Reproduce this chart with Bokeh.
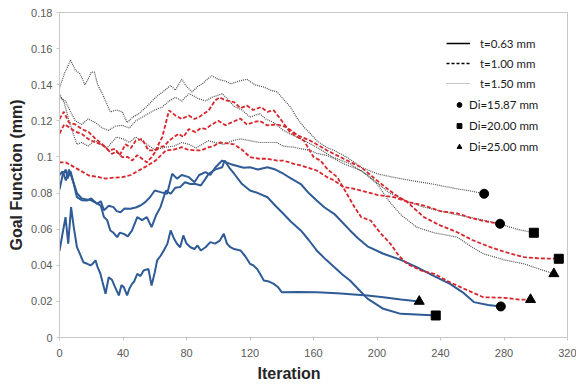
from bokeh.plotting import figure
from bokeh.models import Legend, LegendItem, Range1d, FixedTicker, NumeralTickFormatter, Title
from bokeh.embed import file_html
from bokeh.resources import INLINE

# ---------------- data ----------------
x_ticks = [0, 40, 80, 120, 160, 200, 240, 280, 320]
y_ticks = [0, 0.02, 0.04, 0.06, 0.08, 0.1, 0.12, 0.14, 0.16, 0.18]

# t = 0.63 mm (solid blue)
it_063_1587 = [0, 2, 4, 5, 7, 9, 11, 14, 17.4, 20, 23.7, 26, 28, 31, 34, 36, 38.4, 41, 44.7, 48,
               51, 54, 57, 60, 63.6, 67.8, 71, 74, 77, 81.5, 85, 88, 92, 95, 98, 102.5, 105, 108, 112, 116,
               120, 125, 131, 136, 141, 146, 152, 157, 162, 167, 173, 178, 183, 188, 194, 204, 215, 225, 236, 246,
               254, 261, 270, 278]
gf_063_1587 = [0.082, 0.090, 0.093, 0.088, 0.092, 0.085, 0.0777, 0.076, 0.0759, 0.077,
               0.074, 0.0755, 0.0704, 0.073, 0.0722, 0.070, 0.0694, 0.0715, 0.0713, 0.072,
               0.0731, 0.075, 0.0777, 0.0814, 0.0805, 0.0796, 0.0907, 0.088, 0.090, 0.0888,
               0.086, 0.090, 0.0916, 0.090, 0.094, 0.098, 0.097, 0.096, 0.095, 0.094,
               0.0943, 0.093, 0.0943, 0.093, 0.0907, 0.088, 0.085, 0.080, 0.0759, 0.072,
               0.0685, 0.064, 0.0593, 0.055, 0.0505, 0.0464, 0.043, 0.039, 0.034, 0.0297,
               0.025, 0.0196, 0.018, 0.0172]

it_063_2000 = [0, 2, 4, 6, 8, 11, 14, 17, 20, 23, 26, 28, 30, 32, 34, 36.3, 38, 40.5, 43, 45.7,
               49, 52, 55, 58, 61, 63.6, 67, 70, 73, 76, 79, 82.5, 85.7, 89, 92, 94, 98, 102.5, 104, 107,
               110, 115, 120, 125, 131, 136, 141, 146, 152, 157, 162, 168, 173, 178, 183, 188, 194, 204, 215, 225,
               237]
gf_063_2000 = [0.090, 0.092, 0.087, 0.093, 0.088, 0.080, 0.077, 0.0765, 0.076, 0.0745,
               0.073, 0.0667, 0.065, 0.0593, 0.058, 0.0556, 0.058, 0.0574, 0.056, 0.0593,
               0.0667, 0.065, 0.0667, 0.0611, 0.068, 0.0722, 0.0814, 0.0796, 0.083, 0.0833,
               0.086, 0.085, 0.085, 0.0842, 0.088, 0.0907, 0.093, 0.0943, 0.098, 0.094,
               0.0907, 0.085, 0.0814, 0.080, 0.0777, 0.073, 0.0685, 0.064, 0.0593, 0.054,
               0.0482, 0.043, 0.039, 0.035, 0.0316, 0.027, 0.0215, 0.0159, 0.0131, 0.0128,
               0.0122]

it_063_2500 = [0, 2, 3.8, 5.5, 7.3, 9, 11, 13, 15, 17, 19.5, 21, 22.7, 24, 25.8, 27, 29, 31, 33, 35,
               37.4, 39, 40.5, 42.6, 44, 45.7, 47, 49, 51, 53, 56, 58, 60, 61.5, 63.5, 65.7, 68, 70, 72, 74,
               76, 78, 80, 82.5, 85, 87, 89, 92, 95, 98, 101, 103.5, 105.5, 107.7, 110, 114, 117, 120, 122, 124.5,
               126.5, 128.7, 132, 135, 137.5, 140, 150, 162, 175, 194, 204, 215, 226.6]
gf_063_2500 = [0.048, 0.058, 0.0667, 0.052, 0.0722, 0.061, 0.050, 0.046, 0.0417, 0.041,
               0.0399, 0.041, 0.0427, 0.039, 0.0353, 0.031, 0.0242, 0.0334, 0.032, 0.0279,
               0.0233, 0.029, 0.0279, 0.0233, 0.027, 0.0297, 0.031, 0.0353, 0.034, 0.0371,
               0.038, 0.0288, 0.036, 0.0427, 0.045, 0.0482, 0.052, 0.0593, 0.055, 0.0519,
               0.050, 0.0565, 0.052, 0.050, 0.049, 0.051, 0.0482, 0.050, 0.0528, 0.052,
               0.0537, 0.0574, 0.052, 0.050, 0.049, 0.0482, 0.045, 0.0408, 0.040, 0.038,
               0.035, 0.0316, 0.031, 0.0297, 0.028, 0.0251, 0.0252, 0.0251, 0.0245, 0.0233,
               0.0223, 0.021, 0.020]

# t = 1.00 mm (dashed red)
it_100_1587 = [0, 4, 10, 14, 18.5, 24, 29, 34, 39.5, 45, 50, 55, 60.5, 64, 67, 72, 77, 81, 85.7, 89,
               94, 97, 101, 106, 110, 115, 120, 126, 131, 137, 141, 147.6, 152, 162, 168.6, 173, 179, 185, 190, 200,
               210.6, 220, 229.5, 240, 250.5, 260, 270, 277.5]
gf_100_1587 = [0.097, 0.097, 0.094, 0.092, 0.0897, 0.089, 0.088, 0.0885, 0.0888, 0.090,
               0.0925, 0.095, 0.098, 0.101, 0.1036, 0.104, 0.1054, 0.104, 0.1036, 0.1036,
               0.1054, 0.106, 0.108, 0.1075, 0.107, 0.104, 0.0999, 0.099, 0.099, 0.098,
               0.098, 0.0962, 0.0953, 0.0925, 0.0888, 0.087, 0.0833, 0.0825, 0.0814, 0.079,
               0.0777, 0.075, 0.0731, 0.070, 0.0687, 0.066, 0.064, 0.063]

it_100_2000 = [0, 3, 6, 10, 14, 18, 22.7, 26, 29, 33, 36, 39.5, 43, 45.8, 49, 52, 55, 58, 62.5, 66,
               69, 75, 78, 81.5, 85.7, 89, 92, 96, 100, 104.6, 108, 114, 118, 122.4, 126, 131, 137, 143, 150, 158,
               168.6, 179, 190, 200, 210.6, 219, 229.5, 240, 250.5, 260, 271.5, 282, 292.5, 303, 314.5]
gf_100_2000 = [0.113, 0.118, 0.1165, 0.114, 0.1128, 0.110, 0.108, 0.107, 0.1054, 0.1017,
               0.103, 0.0999, 0.100, 0.098, 0.101, 0.099, 0.097, 0.0999, 0.1054, 0.106,
               0.109, 0.1128, 0.111, 0.1155, 0.1137, 0.116, 0.1155, 0.118, 0.120, 0.1175,
               0.119, 0.1212, 0.118, 0.1193, 0.120, 0.1175, 0.118, 0.1165, 0.112, 0.109,
               0.1036, 0.099, 0.0943, 0.087, 0.0796, 0.075, 0.0667, 0.062, 0.0583, 0.054,
               0.050, 0.047, 0.0445, 0.0438, 0.0436]

it_100_2500 = [0, 2.7, 6, 10, 14, 18.5, 22.7, 27, 31, 35, 38, 41.6, 45, 48, 52, 56, 60.5, 64.7, 69, 73,
               77, 81.5, 85, 87.8, 91, 94, 98, 101, 104.6, 110, 114, 118, 122, 127, 131, 135, 140, 145, 150, 154,
               160, 164.4, 169, 175, 181, 186, 190, 196, 202, 208.5, 214, 219, 228, 236, 245, 252.6, 260, 267, 280, 290,
               296.7]
gf_100_2500 = [0.121, 0.125, 0.119, 0.118, 0.1155, 0.1137, 0.110, 0.107, 0.1036, 0.1045,
               0.101, 0.107, 0.105, 0.109, 0.110, 0.1036, 0.1036, 0.111, 0.1258, 0.123,
               0.121, 0.123, 0.121, 0.122, 0.124, 0.1258, 0.1313, 0.133, 0.1313, 0.1304,
               0.127, 0.1285, 0.126, 0.1276, 0.125, 0.1258, 0.120, 0.114, 0.111, 0.109,
               0.100, 0.098, 0.093, 0.0888, 0.0796, 0.072, 0.0667, 0.0648, 0.058, 0.0519,
               0.045, 0.0408, 0.037, 0.0353, 0.031, 0.0279, 0.025, 0.0223, 0.022, 0.021,
               0.021]

# t = 1.50 mm (dotted grey)
it_150_1587 = [0, 3, 7, 10, 13, 16, 18, 20, 22, 24, 27, 32, 36, 39.5, 42.6, 46, 50, 55, 60.5, 65,
               70, 73, 77, 80, 83.6, 87, 90, 93, 96, 100, 104.6, 108, 113, 118, 123, 128.7, 133, 137, 141, 145.5,
               150, 154, 158, 162, 168, 173, 181, 190, 200, 210, 221, 235, 250, 260, 267.5]
gf_150_1587 = [0.138, 0.146, 0.1535, 0.148, 0.146, 0.140, 0.143, 0.147, 0.147, 0.140,
               0.135, 0.125, 0.126, 0.125, 0.119, 0.122, 0.124, 0.128, 0.133, 0.136,
               0.1396, 0.137, 0.143, 0.139, 0.136, 0.139, 0.1405, 0.143, 0.145, 0.143,
               0.142, 0.1405, 0.142, 0.143, 0.140, 0.1387, 0.137, 0.136, 0.132, 0.1276,
               0.121, 0.1165, 0.113, 0.109, 0.1054, 0.1036, 0.0999, 0.0943, 0.0907, 0.0888,
               0.087, 0.085, 0.0824, 0.081, 0.0796]

it_150_2000 = [0, 3.8, 7, 10, 14, 18, 22.7, 27, 31, 35, 39.5, 44, 48, 52, 56, 60, 64.7, 69, 73, 77,
               81.5, 84, 87.8, 92, 96, 102.5, 106, 110, 115, 120, 126, 130, 135, 141, 147, 152, 162, 172, 183, 194,
               208, 220, 229.5, 240, 250, 262, 277, 288, 298.8]
gf_150_2000 = [0.133, 0.131, 0.125, 0.120, 0.118, 0.121, 0.119, 0.116, 0.1147, 0.117,
               0.1175, 0.116, 0.120, 0.122, 0.124, 0.126, 0.1276, 0.131, 0.133, 0.131,
               0.135, 0.134, 0.1322, 0.131, 0.133, 0.135, 0.132, 0.128, 0.126, 0.122,
               0.124, 0.121, 0.119, 0.1147, 0.112, 0.110, 0.1054, 0.100, 0.0962, 0.090,
               0.080, 0.075, 0.0722, 0.070, 0.068, 0.066, 0.063, 0.060, 0.058]

it_150_2500 = [0, 3, 6, 9, 11, 14, 18, 22, 26, 30, 36, 40, 44, 48, 50, 55, 60, 67, 72, 77,
               81.5, 86, 90, 94, 98, 103.5, 109, 114, 120, 126, 131, 137, 141, 147.6, 152, 158, 162, 168.6, 173, 179,
               190, 200, 208, 215, 225, 236, 250.5, 260, 267, 280, 292.5, 302, 311.4]
gf_150_2500 = [0.135, 0.130, 0.120, 0.112, 0.107, 0.108, 0.106, 0.109, 0.107, 0.105,
               0.111, 0.110, 0.108, 0.111, 0.110, 0.107, 0.104, 0.1054, 0.106, 0.108,
               0.107, 0.105, 0.107, 0.109, 0.108, 0.107, 0.109, 0.110, 0.109, 0.108,
               0.108, 0.108, 0.106, 0.1054, 0.1045, 0.1036, 0.102, 0.1008, 0.099, 0.0962,
               0.0925, 0.0852, 0.075, 0.068, 0.0611, 0.058, 0.0556, 0.050, 0.0464, 0.043,
               0.0408, 0.038, 0.0353]

thickness_labels = ["t=0.63 mm", "t=1.00 mm", "t=1.50 mm"]
diameter_labels = ["Di=15.87 mm", "Di=20.00 mm", "Di=25.00 mm"]

# ---------------- figure ----------------
p = figure(width=576, height=385, output_backend="svg", toolbar_location=None,
           x_range=Range1d(0, 320), y_range=Range1d(0, 0.18),
           min_border_left=59, min_border_right=9, min_border_top=12, min_border_bottom=48)
p.background_fill_color = "white"
p.border_fill_color = "white"
p.outline_line_color = "#c8c8c8"
p.xgrid.visible = False
p.ygrid.visible = False

for ax in (p.xaxis[0], p.yaxis[0]):
    ax.axis_line_color = "#c8c8c8"
    ax.major_tick_line_color = "#c8c8c8"
    ax.major_tick_in = 0
    ax.major_tick_out = 3
    ax.minor_tick_line_color = None
    ax.major_label_text_font = "Liberation Sans"
    ax.major_label_text_font_size = "11px"
    ax.major_label_text_color = "#595959"

p.xaxis.ticker = FixedTicker(ticks=x_ticks)
p.yaxis.ticker = FixedTicker(ticks=y_ticks)
p.yaxis.formatter = NumeralTickFormatter(format="0.[00]")
p.xaxis.major_label_standoff = 8
p.yaxis.major_label_standoff = 4

p.yaxis.axis_label = "Goal Function (mm)"
p.yaxis.axis_label_text_font = "Liberation Sans"
p.yaxis.axis_label_text_font_style = "bold"
p.yaxis.axis_label_text_font_size = "16px"
p.yaxis.axis_label_text_color = "#262626"
p.yaxis.axis_label_standoff = 3

xt = Title(text="Iteration", align="left", offset=198, standoff=7,
           text_font="Liberation Sans", text_font_style="bold", text_font_size="16px",
           text_color="#262626")
p.add_layout(xt, "below")

blue = "#2f5b96"
red = "#d8262c"
grey = "#4f4f4f"

series = [
    (it_063_1587, gf_063_1587, blue, "solid", 2.0, "circle"),
    (it_063_2000, gf_063_2000, blue, "solid", 2.0, "square"),
    (it_063_2500, gf_063_2500, blue, "solid", 2.0, "triangle"),
    (it_150_1587, gf_150_1587, grey, "1 1", 1.2, "circle"),
    (it_150_2000, gf_150_2000, grey, "1 1", 1.2, "square"),
    (it_150_2500, gf_150_2500, grey, "1 1", 1.2, "triangle"),
    (it_100_1587, gf_100_1587, red, "4 2", 1.8, "circle"),
    (it_100_2000, gf_100_2000, red, "4 2", 1.8, "square"),
    (it_100_2500, gf_100_2500, red, "4 2", 1.8, "triangle"),
]
for xs, ys, col, dash, lw, mk in series:
    p.line(xs, ys, line_color=col, line_width=lw, line_dash=dash)
for xs, ys, col, dash, lw, mk in series:
    sz = 9 if mk != "triangle" else 10
    p.scatter([xs[-1]], [ys[-1]], marker=mk, size=sz, fill_color="black", line_color="black")

# invisible (NaN) renderers, only used to draw the legend glyphs
nan = float("nan")
r_solid = p.line(x=[nan, nan], y=[nan, nan], line_color="black", line_width=1.5)
r_dash = p.line(x=[nan, nan], y=[nan, nan], line_color="black", line_width=1.5, line_dash="3 2")
r_dot = p.line(x=[nan, nan], y=[nan, nan], line_color="#8a8a8a", line_width=1.2, line_dash="1 1")
r_c = p.scatter(x=[nan], y=[nan], marker="circle", size=6, fill_color="black", line_color="black")
r_s = p.scatter(x=[nan], y=[nan], marker="square", size=6, fill_color="black", line_color="black")
r_t = p.scatter(x=[nan], y=[nan], marker="triangle", size=8, fill_color="black", line_color="black")

common = dict(border_line_color=None, background_fill_alpha=0, padding=0, spacing=0, margin=0,
              label_text_font="Lato", label_text_font_size="11.5px", label_text_color="#1a1a1a")

leg1 = Legend(items=[LegendItem(label=thickness_labels[0], renderers=[r_solid]),
                     LegendItem(label=thickness_labels[1], renderers=[r_dash]),
                     LegendItem(label=thickness_labels[2], renderers=[r_dot])],
              location=(387, 244), glyph_width=24, glyph_height=20, label_height=20,
              label_standoff=10, **common)
leg2 = Legend(items=[LegendItem(label=diameter_labels[0], renderers=[r_c]),
                     LegendItem(label=diameter_labels[1], renderers=[r_s]),
                     LegendItem(label=diameter_labels[2], renderers=[r_t])],
              location=(394, 180), glyph_width=12, glyph_height=21, label_height=21,
              label_standoff=4, **common)
p.add_layout(leg1)
p.add_layout(leg2)

open("out.html", "w").write(file_html(p, INLINE))
